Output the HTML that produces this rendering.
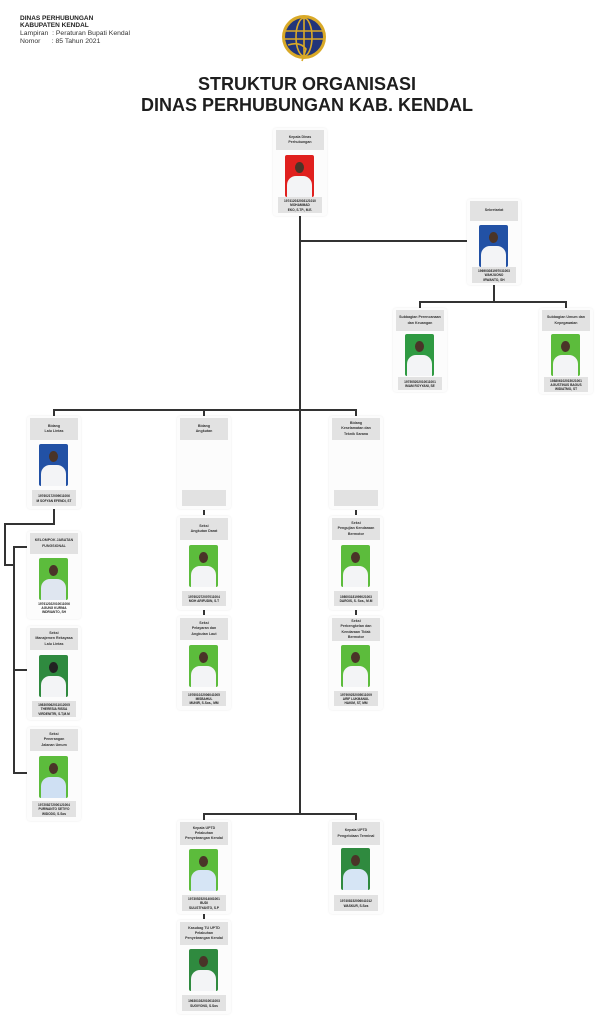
<!DOCTYPE html>
<html><head><meta charset="utf-8">
<style>
*{margin:0;padding:0;box-sizing:border-box}
body{width:614px;height:1024px;background:#fff;position:relative;overflow:hidden;font-family:"Liberation Sans",sans-serif;color:#222}
.a{position:absolute}
.card{position:absolute;width:54px;background:#fcfcfc;border-radius:3px;box-shadow:0 0 2px rgba(0,0,0,.08)}
.h{position:absolute;left:3px;width:48px;top:2px;background:#e2e2e2;font-size:3.6px;font-weight:bold;text-align:center;display:flex;align-items:center;justify-content:center;line-height:1.45;color:#333}
.p{position:absolute;left:12px;width:29px;height:42px;border-radius:2px;overflow:hidden}
.p .hd{position:absolute;left:10px;top:7px;width:9px;height:11px;border-radius:50%;background:#4a3428}
.p .bd{position:absolute;left:2px;top:21px;width:25px;height:24px;border-radius:9px 9px 0 0;background:#f3f4f6}
.t{position:absolute;left:5px;width:44px;background:#e2e2e2;font-size:3.2px;font-weight:bold;text-align:center;line-height:1.3;padding-top:1px;display:flex;flex-direction:column;justify-content:center}
.L{position:absolute;background:#333}
</style></head><body>
<div class="a" style="left:20px;top:15px;font-size:6.5px;font-weight:bold;line-height:7px">DINAS PERHUBUNGAN<br>KABUPATEN KENDAL</div>
<div class="a" style="left:20px;top:30px;font-size:6.8px;line-height:7.5px;color:#333">Lampiran&nbsp; : Peraturan Bupati Kendal<br>Nomor&nbsp;&nbsp;&nbsp;&nbsp;&nbsp; : 85 Tahun 2021</div>
<svg class="a" style="left:280px;top:11px" width="48" height="54" viewBox="0 0 48 54">
<circle cx="24" cy="26" r="22" fill="#d9a927"/>
<circle cx="24" cy="26" r="19" fill="#22357a"/>
<g stroke="#d9a927" stroke-width="1.6" fill="none">
<ellipse cx="24" cy="26" rx="8" ry="19"/><line x1="24" y1="7" x2="24" y2="45"/>
<line x1="6" y1="20" x2="42" y2="20"/><line x1="5" y1="28" x2="43" y2="28"/>
<path d="M8 34 Q20 30 26 38 L22 50"/></g>
</svg>
<div class="a" style="left:0;width:614px;top:74px;text-align:center;font-size:18px;font-weight:bold;line-height:21px;color:#1e1e1e">STRUKTUR ORGANISASI<br>DINAS PERHUBUNGAN KAB. KENDAL</div>

<!-- lines -->
<div class="L" style="left:299px;top:214px;width:2px;height:601px"></div>
<div class="L" style="left:300px;top:240px;width:171px;height:2px"></div>
<div class="L" style="left:493px;top:284px;width:2px;height:18px"></div>
<div class="L" style="left:419px;top:301px;width:148px;height:2px"></div>
<div class="L" style="left:419px;top:301px;width:2px;height:8px"></div>
<div class="L" style="left:565px;top:301px;width:2px;height:8px"></div>
<div class="L" style="left:53px;top:409px;width:304px;height:2px"></div>
<div class="L" style="left:53px;top:409px;width:2px;height:7px"></div>
<div class="L" style="left:203px;top:409px;width:2px;height:7px"></div>
<div class="L" style="left:355px;top:409px;width:2px;height:7px"></div>
<div class="L" style="left:53px;top:508px;width:2px;height:16px"></div>
<div class="L" style="left:4px;top:523px;width:51px;height:2px"></div>
<div class="L" style="left:4px;top:523px;width:2px;height:43px"></div>
<div class="L" style="left:4px;top:564px;width:11px;height:2px"></div>
<div class="L" style="left:13px;top:546px;width:2px;height:228px"></div>
<div class="L" style="left:13px;top:546px;width:17px;height:2px"></div>
<div class="L" style="left:13px;top:669px;width:15px;height:2px"></div>
<div class="L" style="left:13px;top:772px;width:15px;height:2px"></div>
<div class="L" style="left:203px;top:510px;width:2px;height:5px"></div>
<div class="L" style="left:203px;top:610px;width:2px;height:5px"></div>
<div class="L" style="left:355px;top:510px;width:2px;height:5px"></div>
<div class="L" style="left:355px;top:610px;width:2px;height:5px"></div>
<div class="L" style="left:203px;top:813px;width:154px;height:2px"></div>
<div class="L" style="left:203px;top:813px;width:2px;height:7px"></div>
<div class="L" style="left:355px;top:813px;width:2px;height:7px"></div>
<div class="L" style="left:203px;top:913px;width:2px;height:6px"></div>

<!-- Kepala -->
<div class="card" style="left:273px;top:128px;height:88px">
<div class="h" style="height:20px">Kepala Dinas<br>Perhubungan</div>
<div class="p" style="top:27px;background:#e0201e"><div class="hd"></div><div class="bd"></div></div>
<div class="t" style="top:69px;height:16px">197412032003121010<br>MOHAMMAD<br>EKO, S.TP., M.E.</div></div>

<div class="card" style="left:467px;top:199px;height:86px">
<div class="h" style="height:20px">Sekretariat</div>
<div class="p" style="top:26px;background:#2251a5"><div class="hd"></div><div class="bd"></div></div>
<div class="t" style="top:68px;height:16px">196903081997031003<br>WAHJUONO<br>IRWANTO, SH</div></div>

<div class="card" style="left:393px;top:308px;height:84px">
<div class="h" style="height:21px">Subbagian Perencanaan<br>dan Keuangan</div>
<div class="p" style="top:26px;background:#2f9a42"><div class="hd"></div><div class="bd"></div></div>
<div class="t" style="top:69px;height:13px">197505202010011001<br>IMAM ROYYANI, SE</div></div>

<div class="card" style="left:539px;top:308px;height:86px">
<div class="h" style="height:21px">Subbagian Umum dan<br>Kepegawaian</div>
<div class="p" style="top:26px;background:#5cbc3c"><div class="hd"></div><div class="bd"></div></div>
<div class="t" style="top:69px;height:15px">198806102015021001<br>AGUSTINUS BAGUS<br>WIDIATMO, ST</div></div>

<!-- Bidang -->
<div class="card" style="left:27px;top:416px;height:93px">
<div class="h" style="height:22px">Bidang<br>Lalu Lintas</div>
<div class="p" style="top:28px;background:#2251a5"><div class="hd"></div><div class="bd"></div></div>
<div class="t" style="top:74px;height:16px">197602172009011006<br>M SOFYAN EFENDI, ST</div></div>

<div class="card" style="left:177px;top:416px;height:93px">
<div class="h" style="height:22px">Bidang<br>Angkutan</div>
<div class="t" style="top:74px;height:16px"></div></div>

<div class="card" style="left:329px;top:416px;height:93px">
<div class="h" style="height:22px">Bidang<br>Keselamatan dan<br>Teknik Sarana</div>
<div class="t" style="top:74px;height:16px"></div></div>

<!-- left column -->
<div class="card" style="left:27px;top:531px;height:88px">
<div class="h" style="height:21px">KELOMPOK JABATAN<br>FUNGSIONAL</div>
<div class="p" style="top:27px;background:#5cbc3c"><div class="hd"></div><div class="bd" style="background:#dfe6f0"></div></div>
<div class="t" style="top:69px;height:15px;background:#fcfcfc">197612022010011006<br>AGUNG KURNIA<br>INDRIANTO, SH</div></div>

<div class="card" style="left:27px;top:626px;height:94px">
<div class="h" style="height:22px">Seksi<br>Manajemen Rekayasa<br>Lalu Lintas</div>
<div class="p" style="top:29px;background:#2f8a3f"><div class="hd" style="background:#222"></div><div class="bd"></div></div>
<div class="t" style="top:75px;height:16px">198305062011012005<br>THERESIA RISSA<br>VIRDENITRI, S.T,M.M</div></div>

<div class="card" style="left:27px;top:727px;height:94px">
<div class="h" style="height:22px">Seksi<br>Penerangan<br>Jalanan Umum</div>
<div class="p" style="top:29px;background:#5cbc3c"><div class="hd"></div><div class="bd" style="background:#cfe0f3"></div></div>
<div class="t" style="top:74px;height:16px">197208272000121004<br>PURWANTO SETIYO<br>WIDODO, S.Sos</div></div>

<!-- middle -->
<div class="card" style="left:177px;top:516px;height:94px">
<div class="h" style="height:22px">Seksi<br>Angkutan Darat</div>
<div class="p" style="top:29px;background:#5cbc3c"><div class="hd"></div><div class="bd"></div></div>
<div class="t" style="top:75px;height:15px">197602272007011004<br>MOH ARIFUDIN, S.T</div></div>

<div class="card" style="left:177px;top:616px;height:94px">
<div class="h" style="height:22px">Seksi<br>Pelayaran dan<br>Angkutan Laut</div>
<div class="p" style="top:29px;background:#5cbc3c"><div class="hd"></div><div class="bd"></div></div>
<div class="t" style="top:75px;height:15px">197601022006041005<br>MISBAHUL<br>MUNIR, S.Sos., MM</div></div>

<!-- right -->
<div class="card" style="left:329px;top:516px;height:94px">
<div class="h" style="height:22px">Seksi<br>Pengujian Kendaraan<br>Bermotor</div>
<div class="p" style="top:29px;background:#5cbc3c"><div class="hd"></div><div class="bd"></div></div>
<div class="t" style="top:75px;height:15px">198003181999021003<br>DAROIS, S. Sos., M.M</div></div>

<div class="card" style="left:329px;top:616px;height:94px">
<div class="h" style="height:23px">Seksi<br>Perbengkelan dan<br>Kendaraan Tidak<br>Bermotor</div>
<div class="p" style="top:29px;background:#5cbc3c"><div class="hd"></div><div class="bd"></div></div>
<div class="t" style="top:75px;height:15px">197909252005011009<br>ARIF LUKMANUL<br>HAKIM, ST, MM</div></div>

<!-- UPTD -->
<div class="card" style="left:177px;top:820px;height:94px">
<div class="h" style="height:23px">Kepala UPTD<br>Pelabuhan<br>Penyebrangan Kendal</div>
<div class="p" style="top:29px;background:#5cbc3c"><div class="hd"></div><div class="bd" style="background:#d6e5f5"></div></div>
<div class="t" style="top:75px;height:16px">197305252014061001<br>BUDI<br>SULISTIYANTO, S.P</div></div>

<div class="card" style="left:177px;top:920px;height:94px">
<div class="h" style="height:23px">Kasubag TU UPTD<br>Pelabuhan<br>Penyebrangan Kendal</div>
<div class="p" style="top:29px;background:#2f8a3f"><div class="hd"></div><div class="bd"></div></div>
<div class="t" style="top:75px;height:16px">196301032010011003<br>SUGIYONO, S.Sos</div></div>

<div class="card" style="left:329px;top:820px;height:94px">
<div class="h" style="height:23px">Kepala UPTD<br>Pengelolaan Terminal</div>
<div class="p" style="top:28px;background:#2f8a3f"><div class="hd"></div><div class="bd" style="background:#d6e5f5"></div></div>
<div class="t" style="top:75px;height:16px">197408152006041012<br>WASKUR, S.Sos</div></div>
</body></html>
